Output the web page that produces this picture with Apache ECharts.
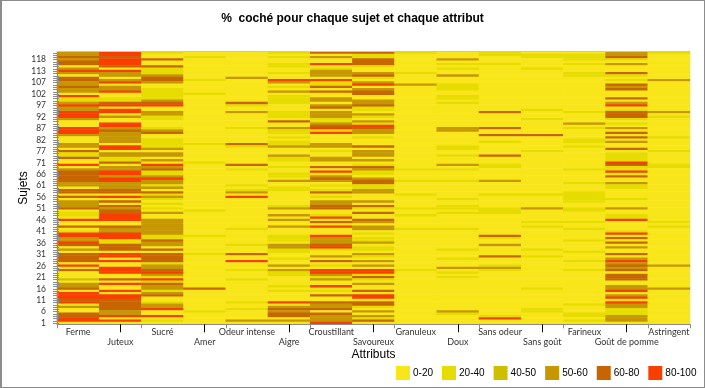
<!DOCTYPE html>
<html><head><meta charset="utf-8">
<style>html,body{margin:0;padding:0;background:#fff}#c{width:705px;height:388px}</style>
<script src="https://cdn.jsdelivr.net/npm/echarts@6/dist/echarts.min.js"></script>
</head><body><div id="c"></div>
<script>
// Each attribute lists % checked, per subject, from the top row (subject 121) down to subject 1.
const attributes = ['Ferme','Juteux','Sucré','Amer','Odeur intense','Aigre','Croustillant','Savoureux','Granuleux','Doux','Sans odeur','Sans goût','Farineux','Goût de pomme','Astringent'];
const subjects = [1,2,3,4,5,6,7,8,9,10,11,12,13,14,15,16,17,18,19,20,21,22,23,24,25,26,27,28,29,30,31,32,33,34,35,36,37,38,39,40,41,42,43,44,45,46,47,48,49,50,51,52,53,54,55,56,57,58,59,60,61,62,63,64,65,66,67,68,69,70,71,72,73,74,75,77,78,79,80,81,82,83,84,85,86,87,88,89,90,91,92,93,94,95,96,97,98,99,100,101,102,103,104,105,106,107,108,109,110,111,113,114,115,116,117,118,119,120,121];
const ferme = [55,55,70,55,70,70,10,55,90,55, 10,70,70,55,55,70,55,55,10,90, 30,30,55,90,55,55,90,90,90,55, 10,10,10,90,90,90,55,10,10,10, 55,55,10,70,30,30,70,10,10,90, 10,55,70,70,70,70,70,55,55,10, 70,70,10,70,10,55,55,55,70,10, 30,30,10,90,10,10,70,10,30,90, 90,55,55,90,70,10,55,10,70,70, 70,70,10,90,10,70,10,10,10,45, 10,55,55,70,10,90,90,90,70,90, 10,55,10,10,70,70,90,90,10];
const juteux = [90,90,70,90,90,90,70,10,90,55, 55,10,55,90,10,55,55,90,10,10, 30,30,70,90,10,90,90,10,55,10, 10,90,90,55,70,55,55,55,55,55, 10,90,90,10,55,55,30,30,70,10, 55,55,90,90,55,90,90,55,55,55, 70,70,10,90,10,70,10,70,55,70, 70,90,90,90,10,10,70,55,55,90, 90,90,30,30,70,70,70,10,90,90, 10,90,10,10,90,90,90,10,10,70, 10,90,10,10,90,10,90,90,70,70, 70,70,70,55,55,90,10,90,10];
const sucre = [30,10,10,70,10,10,70,30,30,30, 55,70,70,55,10,10,30,30,30,30, 30,55,70,90,10,10,55,55,30,30, 10,10,10,30,55,70,10,10,30,30, 30,30,55,10,55,55,10,55,10,90, 55,70,30,30,55,90,55,55,30,55, 10,70,30,55,30,10,30,10,30,10, 55,10,10,55,55,55,55,55,55,55, 30,30,70,55,55,10,70,10,70,70, 70,70,30,55,55,70,90,55,30,90, 30,70,55,55,30,55,70,10,10,30, 55,55,90,10,10,90,10,30,10];
const amer = [10,10,30,10,10,10,10,10,10,10, 10,10,30,10,10,10,10,10,30,10, 10,10,10,10,10,10,10,10,10,10, 10,10,10,10,10,10,10,10,10,10, 30,10,10,10,10,10,10,10,30,10, 10,10,10,10,10,10,10,10,10,10, 10,10,10,10,10,10,10,10,10,30, 10,10,10,10,10,10,10,10,10,10, 30,10,10,10,10,10,10,10,30,10, 10,10,10,10,10,10,10,10,10,10, 10,10,10,70,10,10,10,10,10,10, 10,10,10,30,10,10,10,10,10];
const odeurIntense = [10,10,10,10,10,10,10,10,10,10, 10,55,10,10,10,10,10,10,10,10, 10,10,70,30,10,10,55,10,10,10, 10,10,10,30,10,10,10,10,10,10, 70,30,10,10,10,10,10,10,10,70, 10,30,10,10,10,10,10,10,30,10, 30,55,10,90,10,10,10,10,10,10, 10,10,10,10,10,10,10,30,10,10, 10,10,10,10,30,10,10,10,70,10, 10,90,10,10,10,30,10,10,10,30, 10,10,10,10,10,10,10,10,10,30, 10,10,30,10,10,10,10,55,10];
const aigre = [30,10,30,10,10,30,30,10,10,30, 10,10,90,55,10,30,10,55,10,30, 30,30,30,10,10,10,30,30,30,10, 70,10,10,55,30,30,10,30,10,30, 30,55,10,10,10,55,30,30,10,10, 30,10,10,30,30,10,55,10,10,30, 30,10,10,10,10,10,10,30,55,10, 10,55,10,55,10,10,55,10,10,10, 30,30,30,10,55,55,30,30,10,10, 30,10,10,55,10,55,30,30,10,10, 10,10,30,10,30,10,10,10,10,90, 10,55,70,55,70,70,10,55,10];
const croustillant = [70,10,55,10,10,90,10,30,55,55, 55,10,90,30,30,70,10,70,10,10, 55,55,10,55,70,10,55,55,55,30, 30,55,70,90,30,90,10,10,10,10, 55,55,10,30,10,10,55,55,10,10, 70,10,90,10,55,70,55,10,30,10, 30,70,10,30,10,55,55,70,70,10, 10,30,90,10,70,10,90,10,10,10, 90,55,55,55,70,90,30,10,10,55, 10,70,10,30,10,90,90,55,30,55, 10,10,90,10,30,10,70,10,10,70, 55,55,70,10,70,55,55,55,90];
const savoureux = [70,30,30,70,70,70,30,10,10,55, 70,30,10,55,90,10,55,70,70,10, 10,55,55,70,30,30,10,55,30,10, 55,30,90,70,55,55,10,30,10,10, 10,70,10,55,55,55,10,55,10,30, 70,55,30,30,10,55,70,70,30,30, 55,55,10,10,10,55,10,70,30,10, 70,10,10,70,55,10,55,55,10,30, 10,30,30,55,10,30,30,10,55,30, 10,55,10,55,10,90,90,30,70,30, 10,55,10,10,70,10,90,90,10,70, 70,30,10,55,10,55,30,70,10];
const granuleux = [30,10,10,10,10,10,10,10,10,30, 10,10,10,10,55,10,10,10,10,10, 10,10,10,10,10,10,10,10,10,10, 10,10,10,10,10,10,10,10,10,10, 10,10,10,10,10,10,10,10,10,10, 10,30,10,10,10,10,30,10,10,10, 10,10,30,10,10,10,10,10,30,10, 10,30,10,10,10,10,10,30,10,10, 10,10,10,10,10,10,10,10,10,10, 10,10,10,10,10,30,10,10,10,10, 10,10,10,10,10,10,10,10,10,10, 10,10,10,10,10,10,10,10,10];
const doux = [10,10,10,55,10,30,10,30,10,10, 55,10,10,10,30,30,30,10,10,30, 30,10,30,10,10,10,10,10,10,10, 10,10,10,55,55,10,10,10,10,10, 10,30,30,10,10,30,10,10,10,55, 10,30,10,10,10,10,30,10,10,10, 10,10,10,10,30,10,10,30,30,10, 30,10,10,10,10,10,10,30,10,10, 10,10,10,10,10,10,30,10,10,10, 30,10,10,10,55,10,30,10,30,10, 10,10,10,10,10,10,10,10,10,10, 10,10,10,55,30,10,10,10,10];
const sansOdeur = [30,30,10,10,10,30,10,10,10,10, 10,10,10,10,10,10,10,10,10,10, 10,10,10,10,10,10,70,10,10,10, 10,10,10,70,10,10,70,10,10,30, 10,10,10,10,10,70,10,10,10,30, 30,10,10,10,10,10,55,10,10,10, 10,10,30,10,10,10,10,10,30,30, 30,10,10,10,10,10,10,10,10,10, 70,30,10,10,55,10,10,10,10,70, 10,10,10,30,55,30,10,10,10,10, 10,10,10,10,10,10,10,10,10,10, 10,10,10,10,10,30,90,10,10];
const sansGout = [10,30,30,10,10,10,10,30,10,10, 10,10,10,10,10,10,10,10,10,10, 10,10,10,10,10,30,10,10,10,30, 10,10,10,10,10,10,70,10,10,10, 10,10,10,30,10,10,10,10,10,10, 10,10,10,10,10,10,10,10,10,10, 10,10,30,10,10,10,10,10,55,10, 10,10,10,10,30,10,30,10,10,10, 10,10,10,10,10,10,30,10,10,30, 10,10,10,10,10,10,10,10,10,10, 10,10,10,30,10,10,10,10,10,10, 10,10,30,30,10,10,10,10,10];
const farineux = [10,30,30,30,10,30,10,10,10,30, 30,10,10,10,10,10,10,10,10,10, 10,10,10,10,10,10,30,10,10,10, 10,55,10,30,10,10,10,10,30,30, 10,30,10,10,10,10,10,10,10,10, 10,30,10,10,10,10,10,30,10,10, 10,30,30,30,30,30,10,10,30,30, 10,10,10,10,30,10,10,30,10,10, 10,10,30,10,10,10,10,30,10,10, 10,30,10,10,10,30,10,10,10,10, 10,10,10,10,10,10,10,10,10,10, 30,10,10,10,30,30,10,30,10];
const goutDePomme = [55,55,70,30,10,55,10,10,10,70, 30,10,30,10,70,55,70,10,10,10, 70,10,55,90,10,30,70,70,70,30, 10,30,10,55,10,70,10,70,10,55, 10,10,70,10,30,30,30,30,90,70, 30,30,90,10,70,10,10,55,30,30, 10,10,10,10,30,10,10,10,55,10, 10,30,30,90,10,10,10,10,30,90, 10,70,10,70,10,55,10,10,70,10, 55,90,55,70,55,70,10,70,70,70, 10,10,55,55,90,10,55,90,10,90, 55,55,30,30,30,55,55,55,10];
const astringent = [30,10,10,10,10,10,10,10,10,10, 10,10,55,10,10,10,10,10,10,10, 10,10,10,10,10,10,55,10,30,10, 10,10,10,10,10,10,10,30,10,10, 10,10,10,30,10,10,10,10,10,30, 30,10,10,10,10,10,10,10,10,10, 10,10,10,10,10,10,10,10,10,10, 10,10,10,10,30,10,30,10,10,10, 10,10,10,10,10,10,10,10,10,10, 10,10,10,55,10,10,10,10,10,10, 10,10,10,55,10,10,10,10,10,10, 10,10,10,10,10,10,10,10,10];
const columns = [ferme,juteux,sucre,amer,odeurIntense,aigre,croustillant,savoureux,granuleux,doux,sansOdeur,sansGout,farineux,goutDePomme,astringent];

const cells = [];
columns.forEach((col,x)=>col.forEach((v,i)=>cells.push([x,subjects.length-1-i,v])));

const labelFont = 'Lato';
const chart = echarts.init(document.getElementById('c'),null,{renderer:'canvas'});
chart.setOption({
  animation:false,
  backgroundColor:'#fff',
  title:{text:'%  coché pour chaque sujet et chaque attribut',left:'center',top:8,
    textStyle:{fontFamily:'Liberation Sans',fontSize:12,fontWeight:'bold',color:'#000'}},
  grid:{left:57,right:15,top:51.7,bottom:63.7},
  xAxis:[
   {type:'category',data:attributes,position:'bottom',name:'Attributs',nameLocation:'middle',nameGap:24,nameMoveOverlap:false,
    nameTextStyle:{fontFamily:'Liberation Sans',fontSize:12,color:'#000'},
    axisLine:{lineStyle:{color:'#8c8c8c',width:1}},
    axisTick:{show:true,alignWithLabel:false,length:4,interval:(i)=>i%2===0,lineStyle:{color:'#8c8c8c'}},
    axisLabel:{interval:0,margin:3,fontFamily:labelFont,fontSize:9,color:'#333',lineHeight:10,
      formatter:(v,i)=>i%2?'\n'+v:v},
    splitLine:{show:false},z:5},
   {type:'category',data:attributes,position:'bottom',axisLine:{show:false},
    axisTick:{show:true,alignWithLabel:true,length:8,interval:(i)=>i%2===1,lineStyle:{color:'#000'}},
    axisLabel:{show:false},splitLine:{show:false},z:5},
   {type:'category',data:attributes,position:'top',axisLine:{lineStyle:{color:'#c8c8c8'}},
    axisTick:{show:false},axisLabel:{show:false},splitLine:{show:false},z:5}
  ],
  yAxis:[
   {type:'category',data:subjects,name:'Sujets',nameLocation:'middle',nameGap:27,nameRotate:90,nameMoveOverlap:false,
    nameTextStyle:{fontFamily:'Liberation Sans',fontSize:12,color:'#000'},
    axisLine:{lineStyle:{color:'#8c8c8c'}},
    axisTick:{show:true,alignWithLabel:true,interval:0,length:4,lineStyle:{color:'#8c8c8c'}},
    axisLabel:{interval:4,margin:11,fontFamily:labelFont,fontSize:8.5,color:'#333'},
    splitLine:{show:false},z:5},
   {type:'category',data:subjects,position:'left',axisLine:{show:false},
    axisTick:{show:true,inside:true,alignWithLabel:true,interval:0,length:2,lineStyle:{color:'#8c8c8c'}},
    axisLabel:{show:false},splitLine:{show:false},z:5}
  ],
  visualMap:{type:'piecewise',dimension:2,orient:'horizontal',left:396,top:366,padding:0,
    itemWidth:14,itemHeight:14,itemGap:9,textGap:3,itemSymbol:'rect',hoverLink:false,selectedMode:false,
    textStyle:{fontFamily:'Liberation Sans',fontSize:10,color:'#000'},
    pieces:[
     {min:0,max:20,label:'0-20',color:'#F9E61A'},
     {min:20,max:40,label:'20-40',color:'#E6DC00'},
     {min:40,max:50,label:'40-50',color:'#CFBE00'},
     {min:50,max:60,label:'50-60',color:'#C69700'},
     {min:60,max:80,label:'60-80',color:'#C76600'},
     {min:80,max:100,label:'80-100',color:'#F93F00'}
    ]},
  graphic:[
   {type:'rect',shape:{x:0,y:0,width:2,height:388},style:{fill:'#8c8c8c'},silent:true},
   {type:'rect',shape:{x:0,y:0,width:705,height:1},style:{fill:'#8c8c8c'},silent:true},
   {type:'rect',shape:{x:704,y:0,width:1,height:388},style:{fill:'#8c8c8c'},silent:true},
   {type:'rect',shape:{x:0,y:387,width:705,height:1},style:{fill:'#8c8c8c'},silent:true}
  ],
  series:[{type:'heatmap',data:cells,xAxisIndex:0,yAxisIndex:0,itemStyle:{borderWidth:0},emphasis:{disabled:true},progressive:0}]
});
</script></body></html>
